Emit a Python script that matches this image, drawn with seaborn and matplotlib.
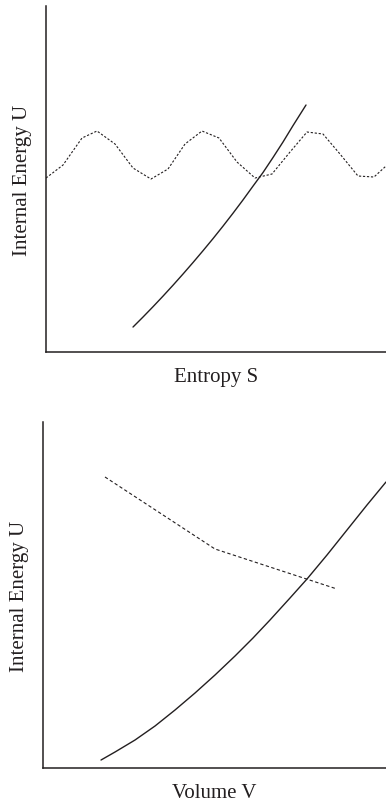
import matplotlib
matplotlib.use("Agg")
import matplotlib.pyplot as plt
import pandas as pd
import seaborn as sns

# top panel: entropy
entropy_dotted_x = [0, 17, 36, 51, 69, 87, 105, 122, 139, 156, 173, 191, 209, 226, 244, 261, 277, 294, 312, 328, 340]
entropy_dotted_u = [174, 187, 214, 221, 208, 184, 173, 183, 208, 221, 214, 190, 174, 178, 200, 220, 218, 198, 176, 175, 186]
entropy_solid_x = [87, 97, 107, 117, 127, 137, 147, 157, 167, 177, 187, 197, 207, 217, 227, 237, 247, 260]
entropy_solid_u = [25, 35, 45.3, 55.9, 66.8, 78, 89.5, 101.3, 113.4, 125.9, 138.8, 152.1, 165.9, 179.5, 194.5, 210, 226.4, 247]

# bottom panel: volume
volume_dashed_x = [62, 172, 294]
volume_dashed_u = [291, 219, 179]
volume_solid_x = [58, 72, 92, 112, 132, 152, 172, 192, 210, 227, 247, 264, 284, 304, 324, 343]
volume_solid_u = [8, 16, 28, 42, 58, 75, 93, 112, 130, 148, 170, 189, 213, 238, 263, 286]

sns.set_theme(style="white")
plt.rcParams["font.family"] = ["Liberation Serif", "DejaVu Serif"]

ink = "#231f20"

fig = plt.figure(figsize=(3.86, 8.04), dpi=100)
ax1 = fig.add_axes([0.1192, 0.5609, 0.8808, 0.4304])
ax2 = fig.add_axes([0.1114, 0.0435, 0.8886, 0.4304])

top_dot = pd.DataFrame({"x": entropy_dotted_x, "u": entropy_dotted_u})
top_sol = pd.DataFrame({"x": entropy_solid_x, "u": entropy_solid_u})
bot_dash = pd.DataFrame({"x": volume_dashed_x, "u": volume_dashed_u})
bot_sol = pd.DataFrame({"x": volume_solid_x, "u": volume_solid_u})

sns.lineplot(data=top_dot, x="x", y="u", ax=ax1, sort=False, estimator=None,
             color=ink, linewidth=0.8, linestyle=(0, (2, 1.6)))
sns.lineplot(data=top_sol, x="x", y="u", ax=ax1, sort=False, estimator=None,
             color=ink, linewidth=1.0)
sns.lineplot(data=bot_dash, x="x", y="u", ax=ax2, sort=False, estimator=None,
             color=ink, linewidth=0.8, linestyle=(0, (3, 2.2)))
sns.lineplot(data=bot_sol, x="x", y="u", ax=ax2, sort=False, estimator=None,
             color=ink, linewidth=1.0)

for ax, xmax, xlab in [(ax1, 340, "Entropy S"), (ax2, 343, "Volume V")]:
    ax.set_xlim(0, xmax)
    ax.set_ylim(0, 346)
    ax.set_xticks([])
    ax.set_yticks([])
    sns.despine(ax=ax)
    for side in ("left", "bottom"):
        ax.spines[side].set_color(ink)
        ax.spines[side].set_linewidth(1.1)
    ax.set_xlabel(xlab, fontsize=15, color=ink, labelpad=11)
    ax.set_ylabel("Internal Energy U", fontsize=15, color=ink, labelpad=10)

fig.savefig("out.png", dpi=100)
